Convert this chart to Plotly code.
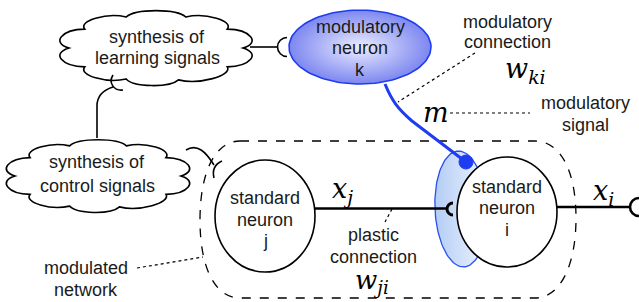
import math
import plotly.graph_objects as go

# ---- text content ----
cloud_learning = ["synthesis of", "learning signals"]
cloud_control = ["synthesis of", "control signals"]
mod_neuron = ["modulatory", "neuron", "k"]
neuron_j = ["standard", "neuron", "j"]
neuron_i = ["standard", "neuron", "i"]
mod_conn = ["modulatory", "connection"]
mod_signal = ["modulatory", "signal"]
plastic_conn = ["plastic", "connection"]
mod_network = ["modulated", "network"]
math_labels = {
    "xj": "<i>x</i><sub><i>j</i></sub>",
    "xi": "<i>x</i><sub><i>i</i></sub>",
    "wki": "<i>w</i><sub><i>ki</i></sub>",
    "wji": "<i>w</i><sub><i>ji</i></sub>",
    "m": "<i>m</i>",
}

W, H = 639, 302
SANS = "Liberation Sans, Arial, sans-serif"
SERIF = "DejaVu Serif, serif"
BLUE = "rgb(30,60,240)"

fig = go.Figure()
shapes = []
annotations = []


def cloud_path(cx, cy, rx, ry, joints_deg, s=1.22, dfrac=0.22):
    def P(t):
        return (cx + rx * math.cos(t), cy + ry * math.sin(t))

    def C(t):
        x, y = P(t)
        return (cx + s * (x - cx), cy + s * (y - cy))

    js = [math.radians(a) for a in joints_deg] + [math.radians(joints_deg[0] + 360)]
    x0, y0 = P(js[0])
    p = f"M {x0:.1f},{y0:.1f}"
    for t1, t2 in zip(js[:-1], js[1:]):
        d = dfrac * (t2 - t1)
        c1 = C(t1 + d)
        c2 = C(t2 - d)
        p2 = P(t2)
        p += f" C {c1[0]:.1f},{c1[1]:.1f} {c2[0]:.1f},{c2[1]:.1f} {p2[0]:.1f},{p2[1]:.1f}"
    return p + " Z"


def left_cup(cx, cy, r):
    k = 0.5523 * r
    return (f"M {cx:.1f},{cy - r:.1f} C {cx - k:.1f},{cy - r:.1f} {cx - r:.1f},{cy - k:.1f} {cx - r:.1f},{cy:.1f} "
            f"C {cx - r:.1f},{cy + k:.1f} {cx - k:.1f},{cy + r:.1f} {cx:.1f},{cy + r:.1f}")


def ellipse_pts(cx, cy, rx, ry, rot_deg=0, n=120):
    a = math.radians(rot_deg)
    xs, ys = [], []
    for k in range(n + 1):
        t = 2 * math.pi * k / n
        ex, ey = rx * math.cos(t), ry * math.sin(t)
        xs.append(cx + ex * math.cos(a) - ey * math.sin(a))
        ys.append(cy + ex * math.sin(a) + ey * math.cos(a))
    return xs, ys


def path(d, layer="above", color="black", width=1.5, dash="solid", fill=None):
    s = dict(type="path", path=d, xref="x", yref="y", layer=layer,
             line=dict(color=color, width=width, dash=dash))
    if fill:
        s["fillcolor"] = fill
    shapes.append(s)


def text(x, y, t, size=18, family=SANS, color="#1a1a1a"):
    annotations.append(dict(x=x, y=y, xref="x", yref="y", text=t, showarrow=False,
                            xanchor="center", yanchor="middle",
                            font=dict(family=family, size=size, color=color)))


joints = [0, 35, 75, 110, 145, 180, 215, 250, 290, 325]

# ---- below layer: dashed network boundary and clouds ----
path("M 240,141 L 535,141 C 560,141 576,170 576,218 C 576,266 560,298 535,298 "
     "L 240,298 C 215,298 200,268 200,220 C 200,172 215,141 240,141 Z",
     layer="below", width=1.3, dash="dash")
path(cloud_path(156, 48, 87, 33, joints), layer="below", width=1.6, fill="white")
path(cloud_path(98, 176, 83, 32, joints), layer="below", width=1.6, fill="white")

# ---- traces: gradient ellipses ----
ex, ey = ellipse_pts(461, 209, 26, 58, rot_deg=-3)
fig.add_trace(go.Scatter(x=ex, y=ey, mode="lines", fill="toself",
                         fillgradient=dict(type="horizontal",
                                           colorscale=[[0, "rgb(180,205,245)"], [1, "rgb(238,244,253)"]]),
                         line=dict(color="rgb(40,80,240)", width=1.3), hoverinfo="skip", showlegend=False))
ex, ey = ellipse_pts(360, 47, 71, 37)
fig.add_trace(go.Scatter(x=ex, y=ey, mode="lines", fill="toself",
                         fillgradient=dict(type="radial",
                                           colorscale=[[0, "rgb(235,237,255)"], [1, "rgb(125,135,240)"]]),
                         line=dict(color=BLUE, width=1.6), hoverinfo="skip", showlegend=False))

# ---- above layer: connections ----
# learning cloud -> modulatory neuron
path("M 250,47 L 277.5,47", width=1.6)
path(left_cup(287, 47, 9.5), width=1.6)
# control cloud -> learning cloud
path("M 97,138 L 97,106 Q 97,92 113,87", width=1.6)
path("M 113,75 C 108,83 114,91 123,90", width=1.6)
# control cloud -> neuron j
path("M 186,150 C 197,143 206,152 214,165", width=1.6)
path("M 222,161 Q 211,166 214,178", width=1.6)

# neurons
shapes.append(dict(type="circle", xref="x", yref="y", x0=215, x1=315, y0=160, y1=272,
                   fillcolor="white", line=dict(color="black", width=1.6), layer="above"))
shapes.append(dict(type="circle", xref="x", yref="y", x0=457, x1=557, y0=157, y1=267,
                   fillcolor="white", line=dict(color="black", width=1.6), layer="above"))

# plastic connection j -> i
path("M 315,208.5 L 446,208.5", width=2.6)
path(left_cup(453, 209, 6), width=3)
# output of i
path("M 557,207 L 630,207", width=2.6)
path(left_cup(639, 207, 9), width=2.6)

# modulatory connection
path("M 385,84 C 392,101 398,109 412,121 L 462,159", color=BLUE, width=3)
shapes.append(dict(type="circle", xref="x", yref="y", x0=459, x1=473, y0=155, y1=169,
                   fillcolor=BLUE, line=dict(color=BLUE, width=1), layer="above"))

# dotted leaders
path("M 475,53 L 398,102", width=1.2, dash="dot")
path("M 450,113 L 530,113", width=1.2, dash="dot")
path("M 392,209 L 385,222", width=1.2, dash="dot")
path("M 137,268 L 203,257", width=1.2, dash="dot")

# ---- texts ----
for t, y in zip(cloud_learning, [37, 58]):
    text(157, y, t)
for t, y in zip(cloud_control, [162, 186]):
    text(97, y, t)
for t, y in zip(mod_neuron, [27, 48, 70]):
    text(360, y, t)
for t, y in zip(neuron_j, [198, 220, 241]):
    text(265, y, t)
for t, y in zip(neuron_i, [187, 208, 230]):
    text(507, y, t)
for t, y in zip(mod_conn, [22, 42]):
    text(507, y, t)
for t, y in zip(mod_signal, [103, 125]):
    text(585, y, t)
for t, y in zip(plastic_conn, [235, 257]):
    text(373, y, t)
for t, y in zip(mod_network, [268, 290]):
    text(86, y, t)

text(342, 190, math_labels["xj"], size=27, family=SERIF, color="black")
text(603, 192, math_labels["xi"], size=27, family=SERIF, color="black")
text(525, 70, math_labels["wki"], size=27, family=SERIF, color="black")
text(372, 281, math_labels["wji"], size=26, family=SERIF, color="black")
text(436, 112, math_labels["m"], size=27, family=SERIF, color="black")

fig.update_layout(
    width=W, height=H, margin=dict(l=0, r=0, t=0, b=0),
    paper_bgcolor="white", plot_bgcolor="white",
    xaxis=dict(range=[0, W], visible=False, fixedrange=True),
    yaxis=dict(range=[H, 0], visible=False, fixedrange=True),
    shapes=shapes, annotations=annotations, showlegend=False,
)

fig.write_html("out.html", config={"displayModeBar": False},
               post_script="document.body.style.margin='0';document.body.style.overflow='hidden';")
